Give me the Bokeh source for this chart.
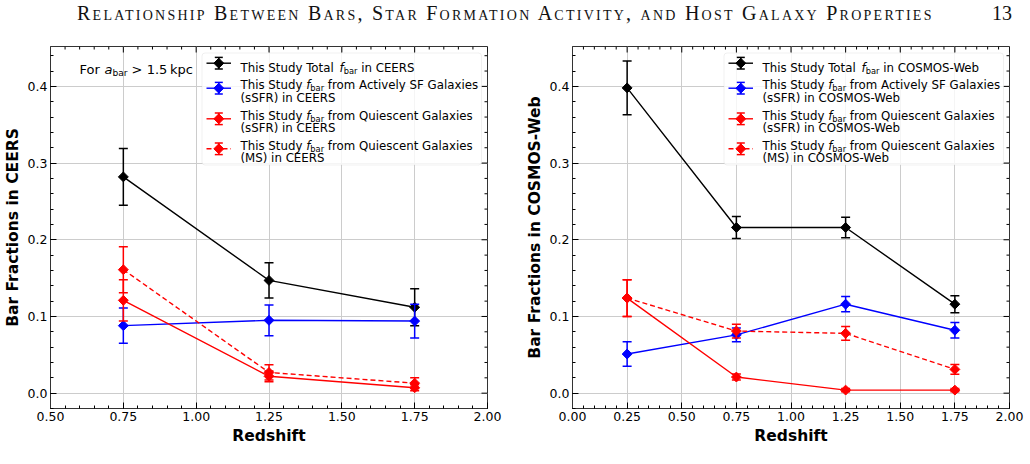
import numpy as np
from bokeh.plotting import figure
from bokeh.models import (Range1d, SingleIntervalTicker, PrintfTickFormatter,
                          BoxAnnotation, ColumnDataSource, Div)
from bokeh.layouts import column, row
from bokeh.core.properties import value
from bokeh.embed import file_html
from bokeh.resources import INLINE

# ---------------- data ----------------
# CEERS
ceers_z = [0.75, 1.25, 1.75]
ceers_total = [0.282, 0.147, 0.112]
ceers_total_err = [0.037, 0.023, 0.024]
ceers_sf = [0.088, 0.095, 0.094]
ceers_sf_err = [0.023, 0.020, 0.022]
ceers_q_ssfr = [0.121, 0.022, 0.007]
ceers_q_ssfr_err = [0.027, 0.007, 0.004]
ceers_q_ms = [0.161, 0.027, 0.013]
ceers_q_ms_err = [0.030, 0.010, 0.007]

# COSMOS-Web
cosmos_z = [0.25, 0.75, 1.25, 1.75]
cosmos_total = [0.398, 0.216, 0.216, 0.116]
cosmos_total_err = [0.035, 0.0145, 0.0135, 0.011]
cosmos_sf = [0.051, 0.076, 0.116, 0.082]
cosmos_sf_err = [0.016, 0.009, 0.010, 0.010]
cosmos_q_ssfr = [0.124, 0.021, 0.004, 0.004]
cosmos_q_ssfr_err = [0.024, 0.004, 0.002, 0.002]
cosmos_q_ms = [0.124, 0.081, 0.078, 0.031]
cosmos_q_ms_err = [0.024, 0.009, 0.009, 0.0065]

x_label = "Redshift"
ceers_ylabel = "Bar Fractions in CEERS"
cosmos_ylabel = "Bar Fractions in COSMOS-Web"
header_title = "Relationship Between Bars, Star Formation Activity, and Host Galaxy Properties"
page_number = "13"

# ---------------- layout constants ----------------
FW, FH = 437, 362
Y_RANGE = (-0.02, 0.452)
FONT = "DejaVu Sans"
LEG_FS = 11.8

# DejaVu Sans advance widths (em)
W = {' ': .318, '(': .390, ')': .390, '-': .361, '.': .318, '1': .636, '5': .636,
     '>': .838, '\u2009': .2, 'A': .684, 'C': .698, 'E': .632, 'F': .575, 'G': .775,
     'M': .863, 'O': .787, 'Q': .787, 'R': .695, 'S': .635, 'T': .611, 'W': .989,
     'a': .613, 'b': .635, 'c': .550, 'd': .635, 'e': .615, 'f': .352, 'h': .634,
     'i': .278, 'k': .579, 'l': .278, 'm': .974, 'n': .634, 'o': .612, 'p': .635,
     'r': .411, 's': .521, 't': .392, 'u': .634, 'v': .592, 'x': .592, 'y': .592}


def text_width(s, fs):
    return fs * sum(W.get(c, 0.6) for c in s)


def draw_rich(p, x, y, parts, fs):
    """Draw a line made of plain, italic and subscript pieces in frame-pixel space."""
    for txt, kind in parts:
        if kind == "sub":
            size, yy, style = fs * 0.7, y - fs * 0.28, "normal"
        elif kind == "i":
            size, yy, style = fs, y, "italic"
        else:
            size, yy, style = fs, y, "normal"
        lead = len(txt) - len(txt.lstrip())
        shown = txt.strip()
        if shown:
            p.text(x=[x + text_width(txt[:lead], size)], y=[yy], text=[shown],
                   text_font=value(FONT), text_font_size=f"{size:.2f}px",
                   text_font_style=style, text_baseline="alphabetic", text_align="left",
                   text_color="black", x_range_name="px", y_range_name="px", level="overlay")
        x += text_width(txt, size)


def fbar(prefix, suffix):
    return [(prefix, "n"), ("f", "i"), ("bar", "sub"), (suffix, "n")]


def tick_values(start, stop, step):
    n = int(round((stop - start) / step))
    return [round(start + i * step, 6) for i in range(n + 1)]


def make_panel(xr, ylabel, z, series, border_right):
    p = figure(frame_width=FW, frame_height=FH, x_range=Range1d(*xr),
               y_range=Range1d(*Y_RANGE), min_border_left=48,
               min_border_right=border_right, min_border_top=18, min_border_bottom=56,
               output_backend="svg", toolbar_location=None,
               x_axis_label=x_label, y_axis_label=ylabel)
    p.background_fill_color = "white"
    p.border_fill_color = "white"
    p.outline_line_color = "#333333"
    p.outline_line_width = 1

    # frame-pixel coordinate system used for the legend, the note and mirrored ticks
    p.extra_x_ranges = {"px": Range1d(0, FW)}
    p.extra_y_ranges = {"px": Range1d(-FH, 0)}

    xt = SingleIntervalTicker(interval=0.25, num_minor_ticks=5)
    yt = SingleIntervalTicker(interval=0.1, num_minor_ticks=5)

    for ax in p.xaxis:
        ax.ticker = xt
        ax.formatter = PrintfTickFormatter(format="%.2f")
    for ax in p.yaxis:
        ax.ticker = yt
        ax.formatter = PrintfTickFormatter(format="%.1f")
    for ax in list(p.xaxis) + list(p.yaxis):
        ax.major_tick_in = 6
        ax.major_tick_out = 0
        ax.minor_tick_in = 3
        ax.minor_tick_out = 0
        ax.major_tick_line_color = "black"
        ax.minor_tick_line_color = "black"
        ax.axis_line_color = "#333333"
        ax.major_label_text_font = FONT
        ax.major_label_text_font_size = "12.5px"
        ax.major_label_text_color = "black"
        ax.major_label_standoff = 3
        ax.axis_label_text_font = FONT
        ax.axis_label_text_font_size = "15.5px"
        ax.axis_label_text_font_style = "bold"
        ax.axis_label_text_color = "black"
        ax.axis_label_standoff = 3

    p.xgrid.ticker = xt
    p.ygrid.ticker = yt
    p.xgrid.grid_line_color = "#cccccc"
    p.ygrid.grid_line_color = "#cccccc"
    p.xgrid.grid_line_width = 1
    p.ygrid.grid_line_width = 1

    # mirrored inward ticks on the top and right edges of the frame
    xmaj = tick_values(xr[0], xr[1], 0.25)
    xmin = [v for v in tick_values(xr[0], xr[1], 0.05) if v not in xmaj]
    ymaj = tick_values(0.0, 0.4, 0.1)
    ymin = [v for v in tick_values(-0.02, 0.44, 0.02) if v not in ymaj]
    for vals, ln in ((xmaj, 6), (xmin, 3)):
        p.segment(x0=vals, y0=[0] * len(vals), x1=vals, y1=[-ln] * len(vals),
                  line_color="black", line_width=1, y_range_name="px")
    for vals, ln in ((ymaj, 6), (ymin, 3)):
        p.segment(x0=[FW] * len(vals), y0=vals, x1=[FW - ln] * len(vals), y1=vals,
                  line_color="black", line_width=1, x_range_name="px")

    # data series: line, error bars with caps, diamond markers
    for vals, errs, color, dash, _ in series:
        src = ColumnDataSource(dict(x=z, y=vals,
                                    lo=[v - e for v, e in zip(vals, errs)],
                                    hi=[v + e for v, e in zip(vals, errs)]))
        p.line("x", "y", source=src, line_color=color, line_width=1.4, line_dash=dash)
        p.segment("x", "lo", "x", "hi", source=src, line_color=color, line_width=1.5)
        p.scatter("x", "lo", source=src, marker="dash", size=9, line_color=color, line_width=1.5)
        p.scatter("x", "hi", source=src, marker="dash", size=9, line_color=color, line_width=1.5)
        p.scatter("x", "y", source=src, marker="square", angle=np.pi / 4, size=7,
                  fill_color=color, line_color=color)

    # legend box
    box = BoxAnnotation(left=151.5, right=431, top=-6.5, bottom=-118.5,
                        x_range_name="px", y_range_name="px",
                        fill_color="white", fill_alpha=0.8,
                        line_color="#cccccc", line_width=1, border_radius=3,
                        level="annotation")
    p.add_layout(box)

    handle_y = [16.7, 41.7, 72.3, 102.3]
    text_y = [[21.3], [38.3, 51.3], [69.0, 81.7], [99.3, 111.7]]
    for (vals, errs, color, dash, lines), hy, tys in zip(series, handle_y, text_y):
        p.segment(x0=[156], y0=[-hy], x1=[180.5], y1=[-hy], line_color=color,
                  line_width=1.4, line_dash=dash, x_range_name="px", y_range_name="px",
                  level="overlay")
        p.segment(x0=[168.3], y0=[-hy - 5.8], x1=[168.3], y1=[-hy + 5.8], line_color=color,
                  line_width=1.5, x_range_name="px", y_range_name="px", level="overlay")
        p.scatter(x=[168.3, 168.3], y=[-hy - 5.8, -hy + 5.8], marker="dash", size=8,
                  line_color=color, line_width=1.5, x_range_name="px", y_range_name="px",
                  level="overlay")
        p.scatter(x=[168.3], y=[-hy], marker="square", angle=np.pi / 4, size=7,
                  fill_color=color, line_color=color, x_range_name="px",
                  y_range_name="px", level="overlay")
        for parts, ty in zip(lines, tys):
            draw_rich(p, 190, -ty, parts, LEG_FS)
    return p


def series_for(field, total, total_e, sf, sf_e, qs, qs_e, qm, qm_e):
    return [
        (total, total_e, "black", "solid",
         [fbar("This Study Total ", f" in {field}")]),
        (sf, sf_e, "blue", "solid",
         [fbar("This Study ", " from Actively SF Galaxies"), [(f"(sSFR) in {field}", "n")]]),
        (qs, qs_e, "red", "solid",
         [fbar("This Study ", " from Quiescent Galaxies"), [(f"(sSFR) in {field}", "n")]]),
        (qm, qm_e, "red", "5 3",
         [fbar("This Study ", " from Quiescent Galaxies"), [(f"(MS) in {field}", "n")]]),
    ]


p1 = make_panel((0.5, 2.0), ceers_ylabel, ceers_z,
                series_for("CEERS", ceers_total, ceers_total_err, ceers_sf, ceers_sf_err,
                           ceers_q_ssfr, ceers_q_ssfr_err, ceers_q_ms, ceers_q_ms_err),
                35)
draw_rich(p1, 29, -23.3, [("For ", "n"), ("a", "i"), ("bar", "sub"),
                          (" > 1.5\u2009kpc", "n")], 13)

p2 = make_panel((0.0, 2.0), cosmos_ylabel, cosmos_z,
                series_for("COSMOS-Web", cosmos_total, cosmos_total_err, cosmos_sf,
                           cosmos_sf_err, cosmos_q_ssfr, cosmos_q_ssfr_err, cosmos_q_ms,
                           cosmos_q_ms_err),
                25)

serif = "font-family:'Liberation Serif',serif;font-size:20px;line-height:20px;color:#111;white-space:nowrap;"
header_html = (
    '<div style="position:relative;width:1030px;height:28px;">'
    f'<span style="position:absolute;left:77px;top:2.5px;{serif}font-variant:small-caps;'
    f'letter-spacing:2.25px;">{header_title}</span>'
    f'<span style="position:absolute;right:18px;top:2.5px;{serif}">{page_number}</span>'
    '</div>'
)
header = Div(text=header_html, width=1030, height=28, margin=(0, 0, 0, 0))

layout = column(header, row(p1, p2, spacing=0), spacing=0)

with open("out.html", "w") as f:
    f.write(file_html(layout, INLINE))
